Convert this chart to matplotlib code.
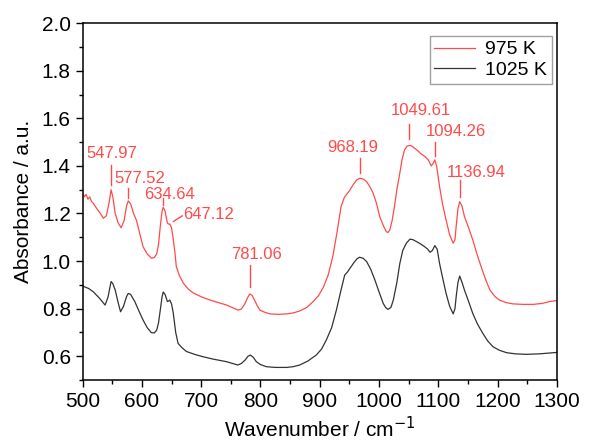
import matplotlib
matplotlib.use('Agg')
import matplotlib.pyplot as plt
from matplotlib.ticker import MultipleLocator

plt.rcParams['font.family'] = ['Liberation Sans', 'DejaVu Sans']

# 975 K spectrum (red)
wn_975 = [500, 503, 506, 509, 512, 515, 518, 524, 530, 535, 540, 545, 548, 551, 555, 560, 565, 570,
          574, 577, 581, 586, 591, 597, 602, 609, 616, 621, 625, 628, 631, 634, 636, 639, 643, 645,
          647, 650, 653, 656, 658, 663, 670, 678, 686, 700, 715, 730, 743, 755, 762, 767, 771, 774,
          778, 782, 786, 790, 795, 799, 807, 816, 830, 844, 855, 866, 878, 889, 898, 906, 914, 922,
          929, 936, 941, 945, 950, 956, 962, 967, 973, 979, 985, 990, 996, 1001, 1007, 1012, 1015,
          1018, 1022, 1026, 1030, 1035, 1039, 1043, 1047, 1052, 1056, 1060, 1066, 1071, 1077, 1083,
          1086, 1088, 1091, 1094, 1097, 1102, 1107, 1113, 1119, 1125, 1128, 1130, 1133, 1136, 1140,
          1144, 1151, 1158, 1165, 1172, 1180, 1187, 1195, 1203, 1215, 1226, 1243, 1260, 1275, 1288, 1300]
abs_975 = [1.285, 1.27, 1.28, 1.26, 1.27, 1.25, 1.243, 1.22, 1.20, 1.18, 1.19, 1.25, 1.30, 1.27, 1.20, 1.16,
           1.14, 1.17, 1.23, 1.253, 1.24, 1.20, 1.17, 1.11, 1.06, 1.03, 1.012, 1.015, 1.03, 1.07, 1.145,
           1.21, 1.226, 1.21, 1.16, 1.155, 1.156, 1.14, 1.09, 1.03, 0.977, 0.94, 0.907, 0.883, 0.867,
           0.85, 0.836, 0.825, 0.815, 0.802, 0.794, 0.797, 0.81, 0.822, 0.845, 0.862, 0.855, 0.836,
           0.81, 0.794, 0.785, 0.778, 0.776, 0.778, 0.782, 0.79, 0.805, 0.83, 0.855, 0.89, 0.94, 1.02,
           1.12, 1.23, 1.265, 1.28, 1.295, 1.32, 1.34, 1.348, 1.345, 1.334, 1.31, 1.285, 1.24, 1.187,
           1.15, 1.124, 1.12, 1.13, 1.17, 1.23, 1.30, 1.37, 1.43, 1.467, 1.483, 1.486, 1.482, 1.474,
           1.462, 1.45, 1.44, 1.425, 1.41, 1.40, 1.41, 1.425, 1.40, 1.313, 1.24, 1.173, 1.11, 1.075,
           1.09, 1.145, 1.22, 1.25, 1.23, 1.187, 1.14, 1.089, 1.03, 0.977, 0.92, 0.878, 0.852, 0.836,
           0.825, 0.82, 0.818, 0.818, 0.822, 0.83, 0.834]

# 1025 K spectrum (black)
wn_1025 = [500, 510, 518, 528, 538, 543, 548, 551, 555, 560, 564, 569, 574, 577, 581, 588, 595, 602,
           609, 616, 621, 625, 628, 631, 634, 636, 639, 643, 645, 647, 650, 653, 657, 661, 668, 675,
           690, 703, 720, 743, 755, 762, 768, 774, 779, 783, 788, 793, 800, 810, 825, 844, 855, 866,
           880, 894, 903, 911, 920, 928, 936, 942, 947, 951, 958, 963, 967, 973, 979, 986, 993, 1000,
           1007, 1011, 1015, 1020, 1024, 1030, 1035, 1040, 1046, 1052, 1057, 1063, 1070, 1077, 1082,
           1086, 1090, 1094, 1098, 1102, 1108, 1113, 1119, 1125, 1128, 1130, 1133, 1136, 1140, 1144,
           1151, 1158, 1166, 1175, 1183, 1192, 1203, 1215, 1230, 1248, 1270, 1300]
abs_1025 = [0.895, 0.885, 0.871, 0.845, 0.815, 0.85, 0.914, 0.905, 0.878, 0.825, 0.787, 0.81, 0.85, 0.864,
            0.86, 0.83, 0.79, 0.752, 0.72, 0.699, 0.698, 0.71, 0.74, 0.794, 0.85, 0.87, 0.86, 0.83,
            0.832, 0.836, 0.82, 0.78, 0.70, 0.654, 0.635, 0.62, 0.607, 0.598, 0.588, 0.577, 0.568,
            0.563, 0.57, 0.584, 0.6, 0.605, 0.595, 0.577, 0.565, 0.556, 0.553, 0.553, 0.556, 0.563,
            0.58, 0.605, 0.63, 0.668, 0.72, 0.794, 0.88, 0.941, 0.955, 0.97, 0.995, 1.01, 1.016, 1.012,
            0.998, 0.965, 0.92, 0.87, 0.822, 0.805, 0.797, 0.805, 0.836, 0.91, 0.99, 1.045, 1.075,
            1.092, 1.09, 1.082, 1.072, 1.06, 1.05, 1.037, 1.045, 1.065, 1.05, 0.99, 0.92, 0.864, 0.81,
            0.778, 0.80, 0.85, 0.91, 0.937, 0.91, 0.878, 0.83, 0.78, 0.735, 0.696, 0.665, 0.64, 0.625,
            0.615, 0.61, 0.608, 0.61, 0.616]

# peak labels: text, text position, tick line start/end
peak_labels = ['547.97', '577.52', '634.64', '647.12', '781.06', '968.19', '1049.61', '1094.26', '1136.94']
label_x = [549, 597, 647, 712, 793, 955, 1070, 1129, 1164]
label_y = [1.453, 1.348, 1.278, 1.194, 1.026, 1.478, 1.631, 1.544, 1.372]
line_x0 = [548, 577, 635, 653, 782, 968, 1050, 1094, 1137]
line_x1 = [548, 577, 635, 668, 782, 968, 1050, 1094, 1137]
line_y0 = [1.32, 1.264, 1.236, 1.166, 0.892, 1.369, 1.512, 1.442, 1.271]
line_y1 = [1.404, 1.306, 1.264, 1.19, 0.984, 1.432, 1.577, 1.502, 1.341]

red = '#ff4a4a'
fig = plt.figure(figsize=(5.9, 4.45), dpi=100)
ax = fig.add_axes([0.140, 0.146, 0.804, 0.802])

ax.plot(wn_975, abs_975, color=red, lw=0.9, label='975 K')
ax.plot(wn_1025, abs_1025, color='#333333', lw=0.9, label='1025 K')

for i in range(len(peak_labels)):
    ax.plot([line_x0[i], line_x1[i]], [line_y0[i], line_y1[i]], color=red, lw=1.0)
    ax.text(label_x[i], label_y[i], peak_labels[i], color=red, fontsize=12,
            ha='center', va='center')

ax.set_xlim(500, 1300)
ax.set_ylim(0.5, 2.0)
ax.xaxis.set_major_locator(MultipleLocator(100))
ax.xaxis.set_minor_locator(MultipleLocator(50))
ax.yaxis.set_major_locator(MultipleLocator(0.2))
ax.yaxis.set_minor_locator(MultipleLocator(0.1))
ax.yaxis.set_major_formatter(plt.FormatStrFormatter('%.1f'))
ax.tick_params(which='both', direction='out', top=False, right=False, labelsize=15)
ax.tick_params(which='major', length=5, width=1)
ax.tick_params(which='minor', length=3, width=1)
for s in ax.spines.values():
    s.set_linewidth(1.1)

ax.set_xlabel('Wavenumber / cm$^{-1}$', fontsize=15, labelpad=4)
ax.set_ylabel('Absorbance / a.u.', fontsize=15, labelpad=6)

leg = ax.legend(loc='upper right', bbox_to_anchor=(0.989, 0.964), borderaxespad=0, fontsize=14,
                frameon=True, fancybox=False, handlelength=2.1, borderpad=0.25, labelspacing=0.15,
                handletextpad=0.5)
leg.get_frame().set_edgecolor('#888888')
leg.get_frame().set_linewidth(1.0)

fig.savefig('out.png', dpi=100)
